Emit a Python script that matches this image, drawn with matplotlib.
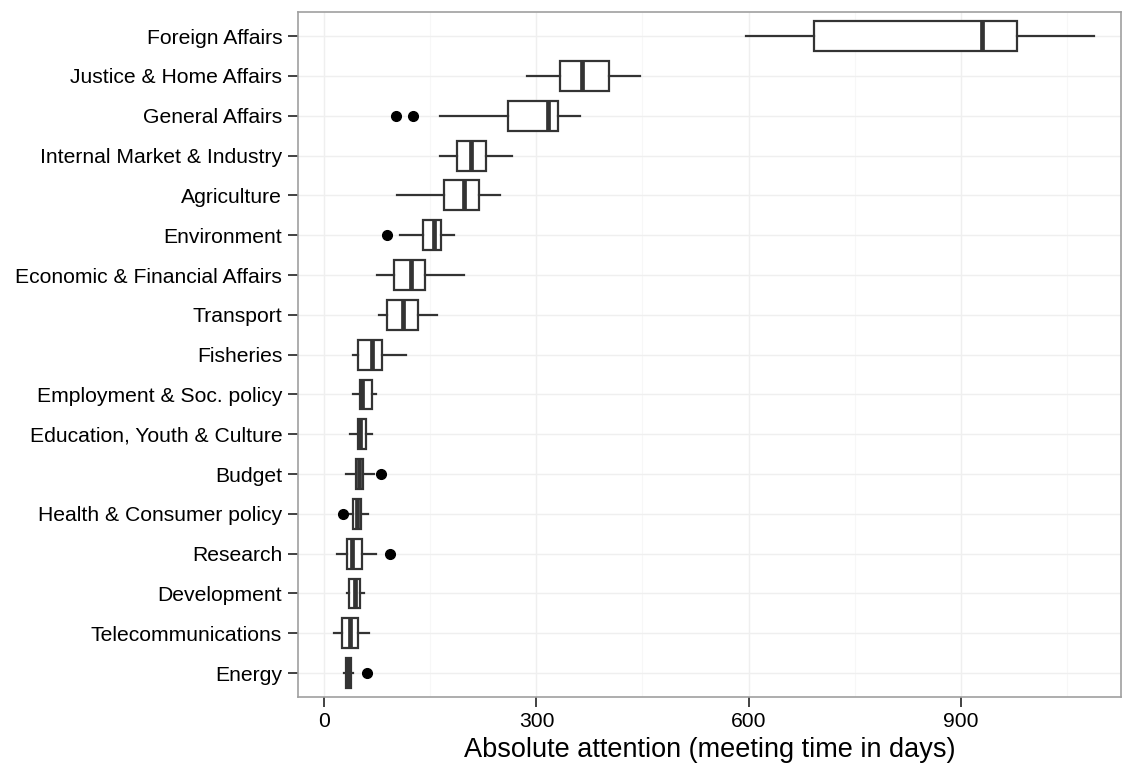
import matplotlib
matplotlib.use("Agg")
import matplotlib.pyplot as plt
from matplotlib.ticker import MultipleLocator

plt.rcParams['font.family'] = ['Liberation Sans', 'DejaVu Sans']

# council configurations, top to bottom
configs = ["Foreign Affairs", "Justice & Home Affairs", "General Affairs",
           "Internal Market & Industry", "Agriculture", "Environment",
           "Economic & Financial Affairs", "Transport", "Fisheries",
           "Employment & Soc. policy", "Education, Youth & Culture", "Budget",
           "Health & Consumer policy", "Research", "Development",
           "Telecommunications", "Energy"]

# box statistics (days)
whis_lo = [596, 287, 163, 163, 103, 107, 74, 78, 41, 41, 37, 30, 32, 18, 32, 14, 28]
q1      = [692, 334, 260, 188, 170, 139, 99, 88, 48, 50, 48, 45, 41, 32, 35, 25, 30]
median  = [930, 364, 317, 207, 198, 155, 123, 112, 68, 53, 51, 49, 46, 39, 43, 37, 34]
q3      = [979, 403, 330, 229, 219, 165, 143, 132, 82, 67, 59, 55, 52, 53, 51, 47, 38]
whis_hi = [1088, 446, 361, 266, 248, 183, 198, 159, 115, 73, 67, 70, 62, 73, 56, 63, 41]
outliers = [[], [], [102, 126], [], [], [88], [], [], [], [], [], [80], [26], [93], [], [], [61]]

stats = []
for i in range(len(configs)):
    stats.append({"whislo": whis_lo[i], "q1": q1[i], "med": median[i], "q3": q3[i],
                  "whishi": whis_hi[i], "fliers": outliers[i], "label": configs[i]})

fig = plt.figure(figsize=(11.25, 7.68), dpi=100)
ax = fig.add_axes([0.265, 0.0925, 0.731, 0.8915])

n = len(configs)
positions = [n - 1 - i for i in range(n)]
edge = '#333333'
ax.bxp(stats, positions=positions, vert=False, widths=0.75, patch_artist=True,
       showcaps=False,
       boxprops=dict(facecolor='white', edgecolor=edge, linewidth=1.6),
       whiskerprops=dict(color=edge, linewidth=1.6),
       medianprops=dict(color=edge, linewidth=3.4, solid_capstyle='butt'),
       flierprops=dict(marker='o', markerfacecolor='black', markeredgecolor='black',
                       markersize=7, linestyle='none'),
       zorder=3)

ax.set_xlim(-37, 1126)
ax.set_ylim(-0.6, n - 0.4)
ax.xaxis.set_major_locator(MultipleLocator(300))
ax.xaxis.set_minor_locator(MultipleLocator(150))
ax.set_yticks(positions)
ax.set_yticklabels(configs)

ax.grid(True, which='major', color='#efefef', linewidth=1.0, zorder=0)
ax.grid(True, which='minor', axis='x', color='#f7f7f7', linewidth=0.8, zorder=0)
ax.set_axisbelow(True)
for s in ax.spines.values():
    s.set_color('#a0a0a0')
    s.set_linewidth(1.2)

ax.tick_params(axis='y', which='major', length=7.5, width=1.3, color='#333333',
               labelsize=15.2, labelcolor='black', pad=4)
ax.tick_params(axis='x', which='major', length=7, width=1.3, color='#333333',
               labelsize=15.2, labelcolor='black', pad=4)
ax.tick_params(axis='both', which='minor', length=0)

ax.set_xlabel('Absolute attention (meeting time in days)', fontsize=19.5, labelpad=4)

fig.savefig('out.png', dpi=100)
